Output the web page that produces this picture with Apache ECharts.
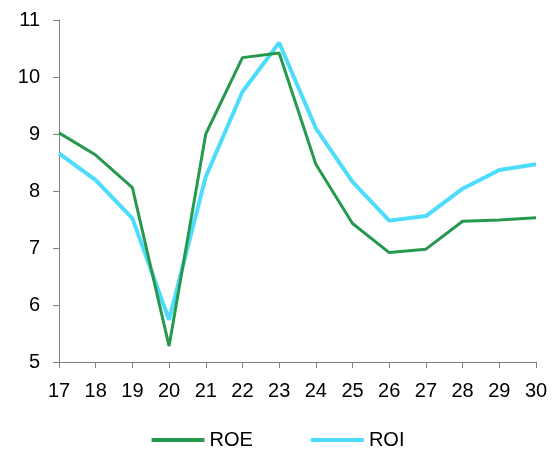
<!DOCTYPE html>
<html>
<head>
<meta charset="utf-8">
<script src="https://cdn.jsdelivr.net/npm/echarts@6/dist/echarts.min.js"></script>
<style>html,body{margin:0;padding:0;background:#fff}#c{width:556px;height:451px}</style>
</head>
<body>
<div id="c"></div>
<script>
const categories = ['17','18','19','20','21','22','23','24','25','26','27','28','29','30'];
const roe = [9.02, 8.63, 8.06, 5.28, 9.0, 10.34, 10.42, 8.47, 7.43, 6.92, 6.98, 7.47, 7.49, 7.53];
const roi = [8.66, 8.19, 7.52, 5.74, 8.25, 9.74, 10.60, 9.10, 8.16, 7.48, 7.56, 8.04, 8.37, 8.47];
const yTicks = [5, 6, 7, 8, 9, 10, 11];

const chart = echarts.init(document.getElementById('c'));
const font = 'Liberation Sans, Arial, sans-serif';
chart.setOption({
  animation: false,
  grid: {left: 59, right: 20, top: 20, bottom: 89},
  legend: {
    top: 425,
    left: 'center',
    itemGap: 58,
    itemWidth: 53,
    itemHeight: 4,
    icon: 'rect',
    textStyle: {fontFamily: font, fontSize: 20, color: '#000'},
    data: ['ROE', 'ROI']
  },
  xAxis: {
    type: 'category',
    data: categories,
    boundaryGap: false,
    axisLine: {lineStyle: {color: '#808080', width: 1}},
    axisTick: {show: true, length: 6, lineStyle: {color: '#808080'}},
    axisLabel: {fontFamily: font, fontSize: 20, color: '#000', margin: 19}
  },
  yAxis: {
    type: 'value',
    min: yTicks[0],
    max: yTicks[yTicks.length - 1],
    interval: 1,
    splitLine: {show: false},
    axisLine: {show: true, lineStyle: {color: '#808080', width: 1}},
    axisTick: {show: true, length: 6, lineStyle: {color: '#808080'}},
    axisLabel: {fontFamily: font, fontSize: 20, color: '#000', margin: 19}
  },
  series: [
    {name: 'ROE', type: 'line', data: roe, symbol: 'none', lineStyle: {color: '#27994f', width: 3}, itemStyle: {color: '#27994f'}, z: 3},
    {name: 'ROI', type: 'line', data: roi, symbol: 'none', lineStyle: {color: '#4ddcfc', width: 4}, itemStyle: {color: '#4ddcfc'}, z: 2}
  ]
});
</script>
</body>
</html>
